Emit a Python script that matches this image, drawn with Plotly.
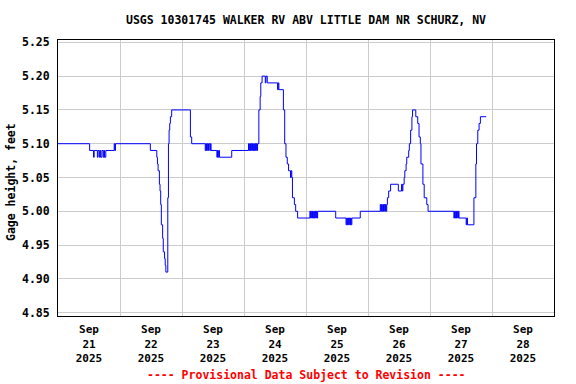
import plotly.graph_objects as go

title_text = "USGS 10301745 WALKER RV ABV LITTLE DAM NR SCHURZ, NV"
y_title = "Gage height, feet"
footer = "---- Provisional Data Subject to Revision ----"

times = [
    "2025-09-21 00:00", "2025-09-21 12:15", "2025-09-21 13:45", "2025-09-21 14:00",
    "2025-09-21 15:15", "2025-09-21 15:30", "2025-09-21 16:00", "2025-09-21 16:15",
    "2025-09-21 16:30", "2025-09-21 17:00", "2025-09-21 17:30", "2025-09-21 17:45",
    "2025-09-21 18:00", "2025-09-21 18:30", "2025-09-21 21:45", "2025-09-21 22:00",
    "2025-09-21 22:15",
    "2025-09-22 11:45", "2025-09-22 14:15", "2025-09-22 14:30", "2025-09-22 14:45",
    "2025-09-22 15:15", "2025-09-22 15:30", "2025-09-22 15:45", "2025-09-22 16:00",
    "2025-09-22 16:30", "2025-09-22 16:45", "2025-09-22 17:15", "2025-09-22 17:30",
    "2025-09-22 17:45", "2025-09-22 18:30", "2025-09-22 18:45", "2025-09-22 19:00",
    "2025-09-22 19:15", "2025-09-22 19:30", "2025-09-22 20:00",
    "2025-09-23 03:15", "2025-09-23 03:45", "2025-09-23 09:00", "2025-09-23 09:15",
    "2025-09-23 09:30", "2025-09-23 09:45", "2025-09-23 10:00", "2025-09-23 10:15",
    "2025-09-23 10:45", "2025-09-23 11:00", "2025-09-23 11:15", "2025-09-23 13:30",
    "2025-09-23 13:45", "2025-09-23 14:00", "2025-09-23 14:15", "2025-09-23 14:30",
    "2025-09-23 19:15",
    "2025-09-24 01:45", "2025-09-24 02:00", "2025-09-24 02:15", "2025-09-24 02:30",
    "2025-09-24 02:45", "2025-09-24 03:00", "2025-09-24 03:15", "2025-09-24 03:30",
    "2025-09-24 03:45", "2025-09-24 04:00", "2025-09-24 04:15", "2025-09-24 04:30",
    "2025-09-24 04:45", "2025-09-24 05:00", "2025-09-24 05:15", "2025-09-24 05:45",
    "2025-09-24 06:15", "2025-09-24 06:30", "2025-09-24 07:00", "2025-09-24 08:15",
    "2025-09-24 08:30", "2025-09-24 09:00", "2025-09-24 13:00", "2025-09-24 13:15",
    "2025-09-24 13:30", "2025-09-24 15:15", "2025-09-24 15:45", "2025-09-24 16:15",
    "2025-09-24 16:45", "2025-09-24 17:15", "2025-09-24 18:00", "2025-09-24 18:15",
    "2025-09-24 18:30", "2025-09-24 18:45", "2025-09-24 19:30", "2025-09-24 20:00",
    "2025-09-24 20:45",
    "2025-09-25 01:30", "2025-09-25 01:45", "2025-09-25 02:00", "2025-09-25 02:15",
    "2025-09-25 02:30", "2025-09-25 02:45", "2025-09-25 03:00", "2025-09-25 03:15",
    "2025-09-25 03:30", "2025-09-25 03:45", "2025-09-25 04:00", "2025-09-25 04:15",
    "2025-09-25 04:30", "2025-09-25 11:30", "2025-09-25 15:30", "2025-09-25 15:45",
    "2025-09-25 16:00", "2025-09-25 16:15", "2025-09-25 16:30", "2025-09-25 16:45",
    "2025-09-25 17:00", "2025-09-25 17:15", "2025-09-25 17:30", "2025-09-25 17:45",
    "2025-09-25 21:00",
    "2025-09-26 04:45", "2025-09-26 05:00", "2025-09-26 05:15", "2025-09-26 05:30",
    "2025-09-26 05:45", "2025-09-26 06:00", "2025-09-26 06:15", "2025-09-26 06:30",
    "2025-09-26 06:45", "2025-09-26 07:00", "2025-09-26 07:15", "2025-09-26 07:30",
    "2025-09-26 08:00", "2025-09-26 08:45", "2025-09-26 11:45", "2025-09-26 13:00",
    "2025-09-26 13:15", "2025-09-26 13:30", "2025-09-26 14:00", "2025-09-26 14:15",
    "2025-09-26 14:45", "2025-09-26 15:00", "2025-09-26 15:45", "2025-09-26 16:00",
    "2025-09-26 16:30", "2025-09-26 17:00", "2025-09-26 17:15", "2025-09-26 18:30",
    "2025-09-26 19:15", "2025-09-26 19:45", "2025-09-26 20:15", "2025-09-26 20:30",
    "2025-09-26 21:15", "2025-09-26 21:45", "2025-09-26 22:45", "2025-09-26 23:15",
    "2025-09-27 09:15", "2025-09-27 09:30", "2025-09-27 09:45", "2025-09-27 10:00",
    "2025-09-27 10:15", "2025-09-27 10:30", "2025-09-27 10:45", "2025-09-27 11:00",
    "2025-09-27 11:15", "2025-09-27 14:00", "2025-09-27 14:15", "2025-09-27 14:30",
    "2025-09-27 17:00", "2025-09-27 17:45", "2025-09-27 18:00", "2025-09-27 18:30",
    "2025-09-27 19:00", "2025-09-27 19:30", "2025-09-27 21:45",
]

gage_ft = [
    5.10, 5.09, 5.08, 5.09,
    5.08, 5.09, 5.08, 5.09,
    5.08, 5.09, 5.08, 5.09,
    5.08, 5.09, 5.10, 5.09,
    5.10,
    5.09, 5.08, 5.07, 5.06,
    5.04, 5.03, 5.01, 4.98,
    4.96, 4.94, 4.93, 4.92,
    4.91, 5.02, 5.10, 5.12,
    5.13, 5.14, 5.15,
    5.11, 5.10, 5.09, 5.10,
    5.09, 5.10, 5.09, 5.10,
    5.09, 5.10, 5.09, 5.08,
    5.09, 5.08, 5.09, 5.08,
    5.09,
    5.10, 5.09, 5.10, 5.09,
    5.10, 5.09, 5.10, 5.09,
    5.10, 5.09, 5.10, 5.09,
    5.10, 5.09, 5.10, 5.15,
    5.17, 5.19, 5.20, 5.19,
    5.20, 5.19, 5.18, 5.19,
    5.18, 5.15, 5.10, 5.08,
    5.07, 5.06, 5.05, 5.06,
    5.05, 5.02, 5.01, 5.00,
    4.99,
    5.00, 4.99, 5.00, 4.99,
    5.00, 4.99, 5.00, 4.99,
    5.00, 4.99, 5.00, 4.99,
    5.00, 4.99, 4.98, 4.99,
    4.98, 4.99, 4.98, 4.99,
    4.98, 4.99, 4.98, 4.99,
    5.00,
    5.01, 5.00, 5.01, 5.00,
    5.01, 5.00, 5.01, 5.00,
    5.01, 5.00, 5.01, 5.02,
    5.03, 5.04, 5.03, 5.04,
    5.03, 5.04, 5.05, 5.06,
    5.07, 5.08, 5.09, 5.10,
    5.12, 5.14, 5.15, 5.14,
    5.13, 5.11, 5.10, 5.07,
    5.04, 5.02, 5.01, 5.00,
    4.99, 5.00, 4.99, 5.00,
    4.99, 5.00, 4.99, 5.00,
    4.99, 4.98, 4.99, 4.98,
    5.02, 5.07, 5.10, 5.12,
    5.13, 5.14, 5.14,
]

FONT = "DejaVu Sans Mono"

fig = go.Figure()
fig.add_trace(go.Scatter(
    x=times, y=gage_ft, mode="lines",
    line=dict(color="#0000FF", width=1, shape="hv"),
    showlegend=False, hoverinfo="skip",
))

fig.update_layout(
    width=576, height=384,
    margin=dict(l=58, r=22, t=40, b=68),
    paper_bgcolor="white", plot_bgcolor="white",
    font=dict(family=FONT, size=11, color="black", weight="bold"),
    title=dict(text=title_text, x=0.5, xref="paper", y=1 - 20 / 384,
               yref="container", yanchor="middle", xanchor="center",
               font=dict(family=FONT, size=11.5, color="black", weight="bold")),
    xaxis=dict(
        type="date",
        range=["2025-09-21 00:00", "2025-09-29 00:00"],
        tick0="2025-09-21", dtick=86400000,
        ticklabelmode="period",
        tickformat="%b<br>%d<br>%Y",
        showgrid=True, gridcolor="#cccccc", gridwidth=1,
        showline=True, linecolor="black", linewidth=1, mirror=True,
        ticks="", zeroline=False, ticklabelstandoff=3,
        tickfont=dict(family=FONT, size=11, color="black", weight="bold"),
    ),
    yaxis=dict(
        range=[4.845, 5.2535],
        tick0=4.85, dtick=0.05, tickformat=".2f",
        showgrid=True, gridcolor="#cccccc", gridwidth=1,
        showline=True, linecolor="black", linewidth=1, mirror=True,
        ticks="", zeroline=False, ticklabelstandoff=5,
        tickfont=dict(family=FONT, size=11.5, color="black", weight="bold"),
    ),
    annotations=[
        dict(text=y_title, textangle=-90, xref="paper", yref="paper",
             x=(11 - 58) / 496, y=(316 - 182) / 276, showarrow=False,
             xanchor="center", yanchor="middle",
             font=dict(family=FONT, size=11.5, color="black", weight="bold")),
        dict(text=footer, xref="paper", yref="paper",
             x=0.5, y=(316 - 375) / 276, showarrow=False,
             xanchor="center", yanchor="middle",
             font=dict(family=FONT, size=11.5, color="#FF0000", weight="bold")),
    ],
)

fig.write_html(
    "out.html",
    config={"displayModeBar": False},
    post_script="document.body.style.margin='0';document.body.style.padding='0';",
)
